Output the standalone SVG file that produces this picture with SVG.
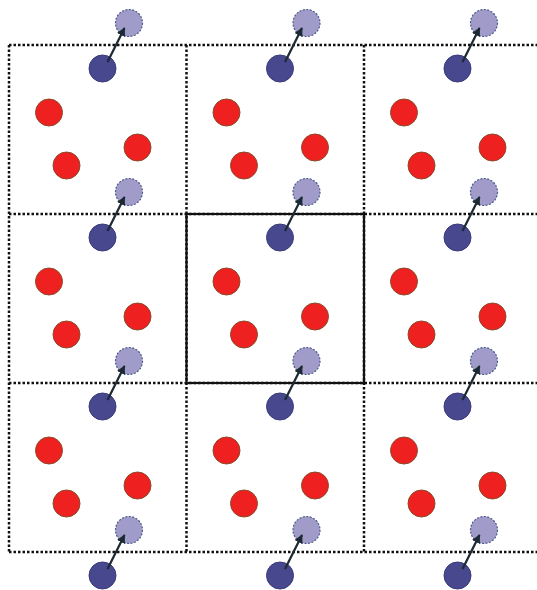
<svg xmlns="http://www.w3.org/2000/svg" width="537" height="590" viewBox="0 0 537 590">
<defs>
<style>
.grid{fill:none;stroke:#111111;stroke-width:2.5;stroke-dasharray:2.5 2}
.cell{fill:none;stroke:#111111;stroke-width:2.2}
.red{fill:#ee2020;stroke:#8a4a2a;stroke-width:1}
.blue{fill:#48488f;stroke:#3a3a7a;stroke-width:1}
.img{fill:#a19bc9;stroke:#4a5a8c;stroke-width:1.2;stroke-dasharray:2 1.5}
.arr{stroke:#1c2a34;stroke-width:2.2;fill:none;marker-end:url(#ah)}
</style>
<marker id="ah" viewBox="0 0 10 10" refX="9" refY="5" markerWidth="4" markerHeight="4" orient="auto" markerUnits="strokeWidth">
<path d="M0,0 L10,5 L0,10 z" fill="#1c2a34"/>
</marker>
</defs>
<rect width="537" height="590" fill="#ffffff"/>
<g id="grid">
<line class="grid" x1="9" y1="45" x2="537" y2="45"/>
<line class="grid" x1="9" y1="214" x2="537" y2="214"/>
<line class="grid" x1="9" y1="383" x2="537" y2="383"/>
<line class="grid" x1="9" y1="552" x2="537" y2="552"/>
<line class="grid" x1="9" y1="45" x2="9" y2="552"/>
<line class="grid" x1="186.5" y1="45" x2="186.5" y2="552"/>
<line class="grid" x1="364" y1="45" x2="364" y2="552"/>
<rect class="cell" x="186.5" y="214" width="177.5" height="169"/>
</g>
<g id="images">
<circle id="img-0-0" class="img" cx="129" cy="23" r="13.5"/>
<circle id="img-0-1" class="img" cx="306.5" cy="23" r="13.5"/>
<circle id="img-0-2" class="img" cx="484" cy="23" r="13.5"/>
<circle id="img-1-0" class="img" cx="129" cy="192" r="13.5"/>
<circle id="img-1-1" class="img" cx="306.5" cy="192" r="13.5"/>
<circle id="img-1-2" class="img" cx="484" cy="192" r="13.5"/>
<circle id="img-2-0" class="img" cx="129" cy="361" r="13.5"/>
<circle id="img-2-1" class="img" cx="306.5" cy="361" r="13.5"/>
<circle id="img-2-2" class="img" cx="484" cy="361" r="13.5"/>
<circle id="img-3-0" class="img" cx="129" cy="530" r="13.5"/>
<circle id="img-3-1" class="img" cx="306.5" cy="530" r="13.5"/>
<circle id="img-3-2" class="img" cx="484" cy="530" r="13.5"/>
</g>
<g id="blues">
<circle id="blue-0-0" class="blue" cx="102.5" cy="68.5" r="13.5"/>
<circle id="blue-0-1" class="blue" cx="280" cy="68.5" r="13.5"/>
<circle id="blue-0-2" class="blue" cx="457.5" cy="68.5" r="13.5"/>
<circle id="blue-1-0" class="blue" cx="102.5" cy="237.5" r="13.5"/>
<circle id="blue-1-1" class="blue" cx="280" cy="237.5" r="13.5"/>
<circle id="blue-1-2" class="blue" cx="457.5" cy="237.5" r="13.5"/>
<circle id="blue-2-0" class="blue" cx="102.5" cy="406.5" r="13.5"/>
<circle id="blue-2-1" class="blue" cx="280" cy="406.5" r="13.5"/>
<circle id="blue-2-2" class="blue" cx="457.5" cy="406.5" r="13.5"/>
<circle id="blue-3-0" class="blue" cx="102.5" cy="575.5" r="13.5"/>
<circle id="blue-3-1" class="blue" cx="280" cy="575.5" r="13.5"/>
<circle id="blue-3-2" class="blue" cx="457.5" cy="575.5" r="13.5"/>
</g>
<g id="reds">
<circle id="red-0-0-a" class="red" cx="49" cy="112.5" r="13.5"/>
<circle id="red-0-0-b" class="red" cx="66.5" cy="165.5" r="13.5"/>
<circle id="red-0-0-c" class="red" cx="137.5" cy="147.5" r="13.5"/>
<circle id="red-0-1-a" class="red" cx="226.5" cy="112.5" r="13.5"/>
<circle id="red-0-1-b" class="red" cx="244" cy="165.5" r="13.5"/>
<circle id="red-0-1-c" class="red" cx="315" cy="147.5" r="13.5"/>
<circle id="red-0-2-a" class="red" cx="404" cy="112.5" r="13.5"/>
<circle id="red-0-2-b" class="red" cx="421.5" cy="165.5" r="13.5"/>
<circle id="red-0-2-c" class="red" cx="492.5" cy="147.5" r="13.5"/>
<circle id="red-1-0-a" class="red" cx="49" cy="281.5" r="13.5"/>
<circle id="red-1-0-b" class="red" cx="66.5" cy="334.5" r="13.5"/>
<circle id="red-1-0-c" class="red" cx="137.5" cy="316.5" r="13.5"/>
<circle id="red-1-1-a" class="red" cx="226.5" cy="281.5" r="13.5"/>
<circle id="red-1-1-b" class="red" cx="244" cy="334.5" r="13.5"/>
<circle id="red-1-1-c" class="red" cx="315" cy="316.5" r="13.5"/>
<circle id="red-1-2-a" class="red" cx="404" cy="281.5" r="13.5"/>
<circle id="red-1-2-b" class="red" cx="421.5" cy="334.5" r="13.5"/>
<circle id="red-1-2-c" class="red" cx="492.5" cy="316.5" r="13.5"/>
<circle id="red-2-0-a" class="red" cx="49" cy="450.5" r="13.5"/>
<circle id="red-2-0-b" class="red" cx="66.5" cy="503.5" r="13.5"/>
<circle id="red-2-0-c" class="red" cx="137.5" cy="485.5" r="13.5"/>
<circle id="red-2-1-a" class="red" cx="226.5" cy="450.5" r="13.5"/>
<circle id="red-2-1-b" class="red" cx="244" cy="503.5" r="13.5"/>
<circle id="red-2-1-c" class="red" cx="315" cy="485.5" r="13.5"/>
<circle id="red-2-2-a" class="red" cx="404" cy="450.5" r="13.5"/>
<circle id="red-2-2-b" class="red" cx="421.5" cy="503.5" r="13.5"/>
<circle id="red-2-2-c" class="red" cx="492.5" cy="485.5" r="13.5"/>
</g>
<g id="connectors">
<line class="arr" x1="107.5" y1="62" x2="124.5" y2="28"/>
<line class="arr" x1="285" y1="62" x2="302" y2="28"/>
<line class="arr" x1="462.5" y1="62" x2="479.5" y2="28"/>
<line class="arr" x1="107.5" y1="231" x2="124.5" y2="197"/>
<line class="arr" x1="285" y1="231" x2="302" y2="197"/>
<line class="arr" x1="462.5" y1="231" x2="479.5" y2="197"/>
<line class="arr" x1="107.5" y1="400" x2="124.5" y2="366"/>
<line class="arr" x1="285" y1="400" x2="302" y2="366"/>
<line class="arr" x1="462.5" y1="400" x2="479.5" y2="366"/>
<line class="arr" x1="107.5" y1="569" x2="124.5" y2="535"/>
<line class="arr" x1="285" y1="569" x2="302" y2="535"/>
<line class="arr" x1="462.5" y1="569" x2="479.5" y2="535"/>
</g>
</svg>
